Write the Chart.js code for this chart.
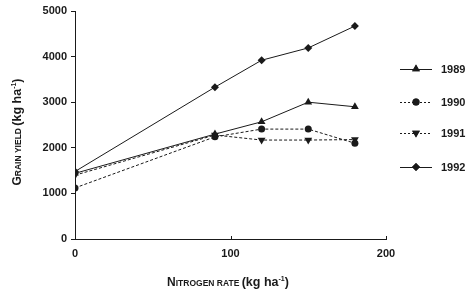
<!DOCTYPE html>
<html><head><meta charset="utf-8">
<script src="https://cdn.jsdelivr.net/npm/chart.js@4/dist/chart.umd.min.js"></script>
<style>html,body{margin:0;padding:0;background:#fff}#wrap{width:470px;height:293px}</style>
</head><body><div id="wrap"><canvas id="c" width="470" height="293"></canvas></div>
<script>
const nitrogenRates = [0, 90, 120, 150, 180];
const years = ['1989', '1990', '1991', '1992'];
const yield1989 = [1440, 2300, 2570, 3000, 2900];
const yield1990 = [1120, 2240, 2410, 2410, 2100];
const yield1991 = [1400, 2280, 2170, 2170, 2180];
const yield1992 = [1480, 3330, 3920, 4190, 4670];
const yTicks = [0, 1000, 2000, 3000, 4000, 5000];
const xTicks = [0, 100, 200];

const ink = '#1a1a1a';
const FONT = 'Liberation Sans';
const mk = (vals) => vals.map((v, i) => ({x: nitrogenRates[i], y: v}));
const styles = [
  {pointStyle: 'triangle', rotation: 0, radius: 4.5, dash: []},
  {pointStyle: 'circle', rotation: 0, radius: 3.5, dash: [3, 2]},
  {pointStyle: 'triangle', rotation: 180, radius: 4.5, dash: [3, 2]},
  {pointStyle: 'rectRot', rotation: 0, radius: 4, dash: []}
];
const series = [yield1989, yield1990, yield1991, yield1992];
const datasets = series.map((s, i) => ({
  label: years[i], data: mk(s),
  borderColor: ink, backgroundColor: ink, borderWidth: 1,
  borderDash: styles[i].dash, pointStyle: styles[i].pointStyle,
  pointRotation: styles[i].rotation, pointRadius: styles[i].radius,
  pointBorderWidth: 0, tension: 0
}));

function drawSmallCaps(ctx, parts, x, y) {
  let total = 0;
  parts.forEach(p => { ctx.font = 'bold ' + p[1] + 'px ' + FONT; total += ctx.measureText(p[0]).width; });
  let cx = x - total / 2;
  ctx.textAlign = 'left'; ctx.textBaseline = 'alphabetic';
  parts.forEach(p => { ctx.font = 'bold ' + p[1] + 'px ' + FONT; ctx.fillText(p[0], cx, y + (p[2] || 0)); cx += ctx.measureText(p[0]).width; });
}

const extras = {
  id: 'extras',
  afterDraw(chart) {
    const ctx = chart.ctx, xs = chart.scales.x, ys = chart.scales.y;
    ctx.save();
    ctx.strokeStyle = ink; ctx.fillStyle = ink; ctx.lineWidth = 1;
    xTicks.forEach(v => { const px = Math.round(xs.getPixelForValue(v)) + 0.5; ctx.beginPath(); ctx.moveTo(px, ys.bottom); ctx.lineTo(px, ys.bottom - 3); ctx.stroke(); });
    const lx = 400, lys = [69, 102, 133, 167];
    datasets.forEach((d, i) => {
      const y = lys[i];
      ctx.setLineDash(styles[i].dash.length ? [2, 2] : []);
      ctx.beginPath(); ctx.moveTo(lx, y + 0.5); ctx.lineTo(lx + 32, y + 0.5); ctx.stroke();
      ctx.setLineDash([]);
      Chart.helpers.drawPoint(ctx, {pointStyle: styles[i].pointStyle, rotation: styles[i].rotation, radius: styles[i].radius, borderWidth: 0}, lx + 16, y);
      ctx.fill();
      ctx.font = 'bold 11px ' + FONT; ctx.textAlign = 'left'; ctx.textBaseline = 'middle';
      ctx.fillText(years[i], 441, y + 1);
    });
    drawSmallCaps(ctx, [['N', 12], ['ITROGEN RATE ', 8.5], ['(kg ha', 12.5], ['-1', 7, -5], [')', 12.5]], 228, 286);
    ctx.translate(21, 132); ctx.rotate(-Math.PI / 2);
    drawSmallCaps(ctx, [['G', 12], ['RAIN YIELD ', 8.5], ['(kg ha', 12.5], ['-1', 7, -5], [')', 12.5]], 0, 0);
    ctx.restore();
  }
};

new Chart(document.getElementById('c'), {
  type: 'line',
  data: {datasets},
  options: {
    responsive: false, animation: false,
    layout: {padding: {left: 0, right: 84, top: 11, bottom: 0}},
    plugins: {legend: {display: false}, tooltip: {enabled: false}},
    scales: {
      x: {
        type: 'linear', min: 0, max: 200,
        afterFit: s => { s.height = 54; },
        afterBuildTicks: s => { s.ticks = xTicks.map(v => ({value: v})); },
        grid: {display: true, drawOnChartArea: false, drawTicks: false, color: ink},
        border: {display: true, color: ink, width: 1},
        ticks: {color: ink, font: {family: FONT, weight: 'bold', size: 11}, padding: 8, maxRotation: 0, callback: v => String(v)}
      },
      y: {
        type: 'linear', min: 0, max: 5000,
        afterFit: s => { s.width = 75; },
        afterBuildTicks: s => { s.ticks = yTicks.map(v => ({value: v})); },
        grid: {display: true, drawOnChartArea: false, drawTicks: true, tickLength: 4, color: ink},
        border: {display: true, color: ink, width: 1},
        ticks: {color: ink, font: {family: FONT, weight: 'bold', size: 11}, padding: 4, callback: v => String(v)}
      }
    }
  },
  plugins: [extras]
});
</script></body></html>
